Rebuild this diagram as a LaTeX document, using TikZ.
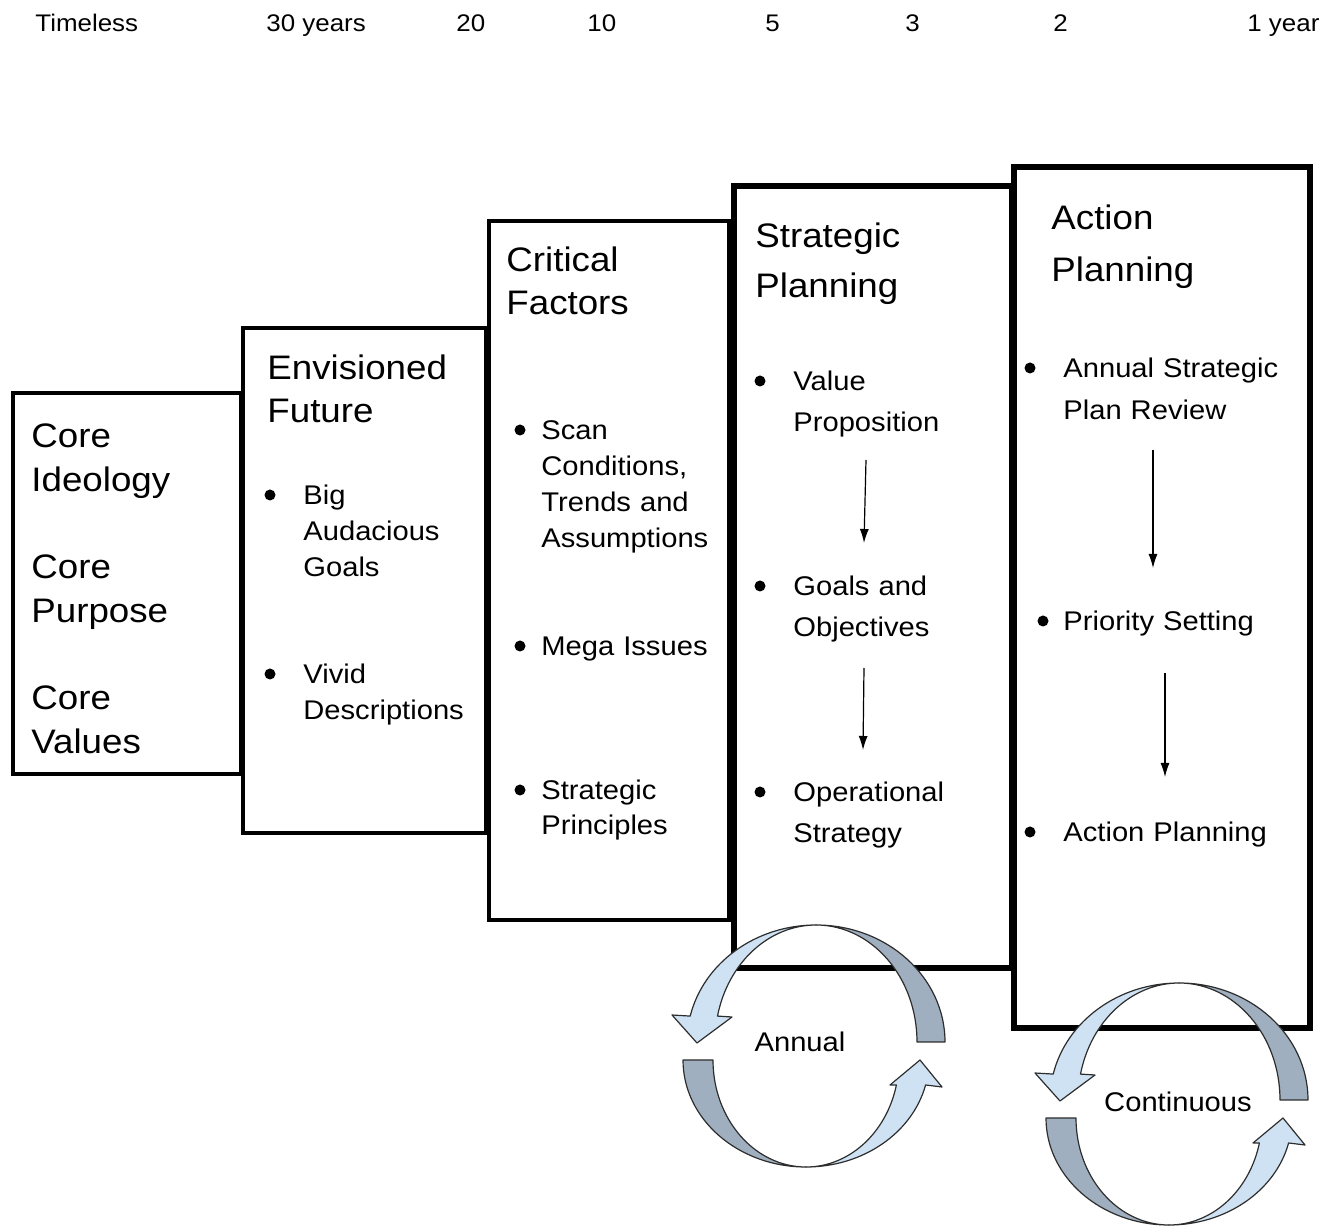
\documentclass[tikz,border=0pt]{standalone}
\usepackage{fontspec}
\setmainfont{Liberation Sans}[FakeStretch=1.08]
\usetikzlibrary{arrows.meta}

\definecolor{arclight}{RGB}{207,226,243}
\definecolor{arcdark}{RGB}{160,175,191}
\definecolor{arcline}{RGB}{45,45,45}

\tikzset{
  stagebox/.style={draw, fill=white, line width=2pt},
  stagethick/.style={stagebox, line width=3pt},
  stagetitle/.style={anchor=base west, inner sep=0pt, text width=150pt, align=left, font=\fontsize{17}{#1}\selectfont},
  stagetitle/.default=21.5pt,
  itemtext/.style={anchor=base west, inner sep=0pt, text width=150pt, align=left, font=\fontsize{13.5}{#1}\selectfont},
  itemtext/.default=18pt,
  yearlabel/.style={anchor=base west, inner sep=0pt, font=\fontsize{12}{14}\selectfont},
  bulletdot/.style={circle, fill=black, inner sep=0pt, minimum size=5.5pt},
  flowarrow/.style={-{Latex[length=7pt, width=4.5pt]}, line width=0.6pt},
  cyclelabel/.style={inner sep=0pt, font=\fontsize{13.5}{16}\selectfont},
  arcpart/.style={draw=arcline, line width=0.6pt, line join=round},
  cyclearrow/.pic={
    % upper half: dark back, light front with head
    \path[arcpart, fill=arcdark] (129,0) arc[start angle=0, end angle=-90, x radius=129, y radius=117]
      arc[start angle=-90, end angle=0, x radius=101, y radius=117] -- cycle;
    \path[arcpart, fill=arclight] (0,-117) arc[start angle=-90, end angle=-167.2, x radius=129, y radius=117]
      -- (-144,-27) -- (-119,1) -- (-84,-25) -- (-98.5,-25.9)
      arc[start angle=-167.2, end angle=-90, x radius=101, y radius=117] -- cycle;
    % lower half
    \path[arcpart, fill=arcdark] (-133,18) arc[start angle=180, end angle=90, x radius=123, y radius=107]
      arc[start angle=90, end angle=180, x radius=93, y radius=107] -- cycle;
    \path[arcpart, fill=arclight] (-10,125) arc[start angle=90, end angle=13.5, x radius=123, y radius=107]
      -- (126,45) -- (104,18) -- (74,43) -- (80.4,43)
      arc[start angle=13.5, end angle=90, x radius=93, y radius=107] -- cycle;
  }
}

\begin{document}
\begin{tikzpicture}[x=0.5pt, y=-0.5pt]
\useasboundingbox (0,0) rectangle (1330,1229);

% time scale
\node[yearlabel] (yTimeless) at (35,32) {Timeless};
\node[yearlabel] (y30) at (266,32) {30 years};
\node[yearlabel] (y20) at (456,32) {20};
\node[yearlabel] (y10) at (587,32) {10};
\node[yearlabel] (y5) at (765,32) {5};
\node[yearlabel] (y3) at (905,32) {3};
\node[yearlabel] (y2) at (1053,32) {2};
\node[yearlabel] (y1) at (1247,32) {1 year};

% stages, each one laid over the one before
\draw[stagebox] (12.5,393.5) rectangle (240.5,774.5);
\node[stagetitle=22pt] (coreideo) at (31,448) {Core\\Ideology};
\node[stagetitle=22pt] (corepurp) at (31,579) {Core\\Purpose};
\node[stagetitle=22pt] (coreval) at (31,710) {Core\\Values};

\draw[stagebox] (242.5,328) rectangle (486,833);
\node[stagetitle] (envtitle) at (267,380) {Envisioned\\Future};
\node[bulletdot] (envdot1) at (270,495) {};
\node[itemtext] (envgoals) at (303,505) {Big\\Audacious\\Goals};
\node[bulletdot] (envdot2) at (270,674) {};
\node[itemtext] (envvivid) at (303,684) {Vivid\\Descriptions};

\draw[stagebox] (489,221) rectangle (729,920);
\node[stagetitle] (crittitle) at (506,272) {Critical\\Factors};
\node[bulletdot] (critdot1) at (520,430) {};
\node[itemtext] (critscan) at (541,440) {Scan\\Conditions,\\Trends and\\Assumptions};
\node[bulletdot] (critdot2) at (520,646) {};
\node[itemtext] (critmega) at (541,656) {Mega Issues};
\node[bulletdot] (critdot3) at (520,790) {};
\node[itemtext=17.5pt] (critprin) at (541,800) {Strategic\\Principles};

\draw[stagethick] (733.5,186.5) rectangle (1011.5,968);
\node[stagetitle=25pt] (strattitle) at (755,248) {Strategic\\Planning};
\node[bulletdot] (stratdot1) at (760,381) {};
\node[itemtext=20.5pt] (stratvalue) at (793,391) {Value\\Proposition};
\node[bulletdot] (stratdot2) at (760,586) {};
\node[itemtext=20.5pt] (stratgoals) at (793,596) {Goals and\\Objectives};
\node[bulletdot] (stratdot3) at (760,792) {};
\node[itemtext=20.5pt] (stratoper) at (793,802) {Operational\\Strategy};
\coordinate (sa1) at (866,460);
\coordinate (sb1) at (864,543);
\coordinate (sa2) at (864,668);
\coordinate (sb2) at (863,750);
\draw[flowarrow] (sa1) -- (sb1);
\draw[flowarrow] (sa2) -- (sb2);

\draw[stagethick] (1013.5,167.5) rectangle (1309.5,1028);
\node[stagetitle=26pt] (acttitle) at (1051,230) {Action\\Planning};
\node[bulletdot] (actdot1) at (1030,368) {};
\node[itemtext=21pt] (actreview) at (1063,378) {Annual Strategic\\Plan Review};
\node[bulletdot] (actdot2) at (1043,621) {};
\node[itemtext] (actprio) at (1063,631) {Priority Setting};
\node[bulletdot] (actdot3) at (1030,832) {};
\node[itemtext] (actplan) at (1063,842) {Action Planning};
\coordinate (aa1) at (1153,450);
\coordinate (ab1) at (1153,568);
\coordinate (aa2) at (1165,673);
\coordinate (ab2) at (1165,777);
\draw[flowarrow] (aa1) -- (ab1);
\draw[flowarrow] (aa2) -- (ab2);

% cycles
\pic at (816,1042) {cyclearrow};
\node[cyclelabel] (annual) at (800,1042) {Annual};
\pic at (1179,1100) {cyclearrow};
\node[cyclelabel] (continuous) at (1178,1102) {Continuous};

\end{tikzpicture}
\end{document}
